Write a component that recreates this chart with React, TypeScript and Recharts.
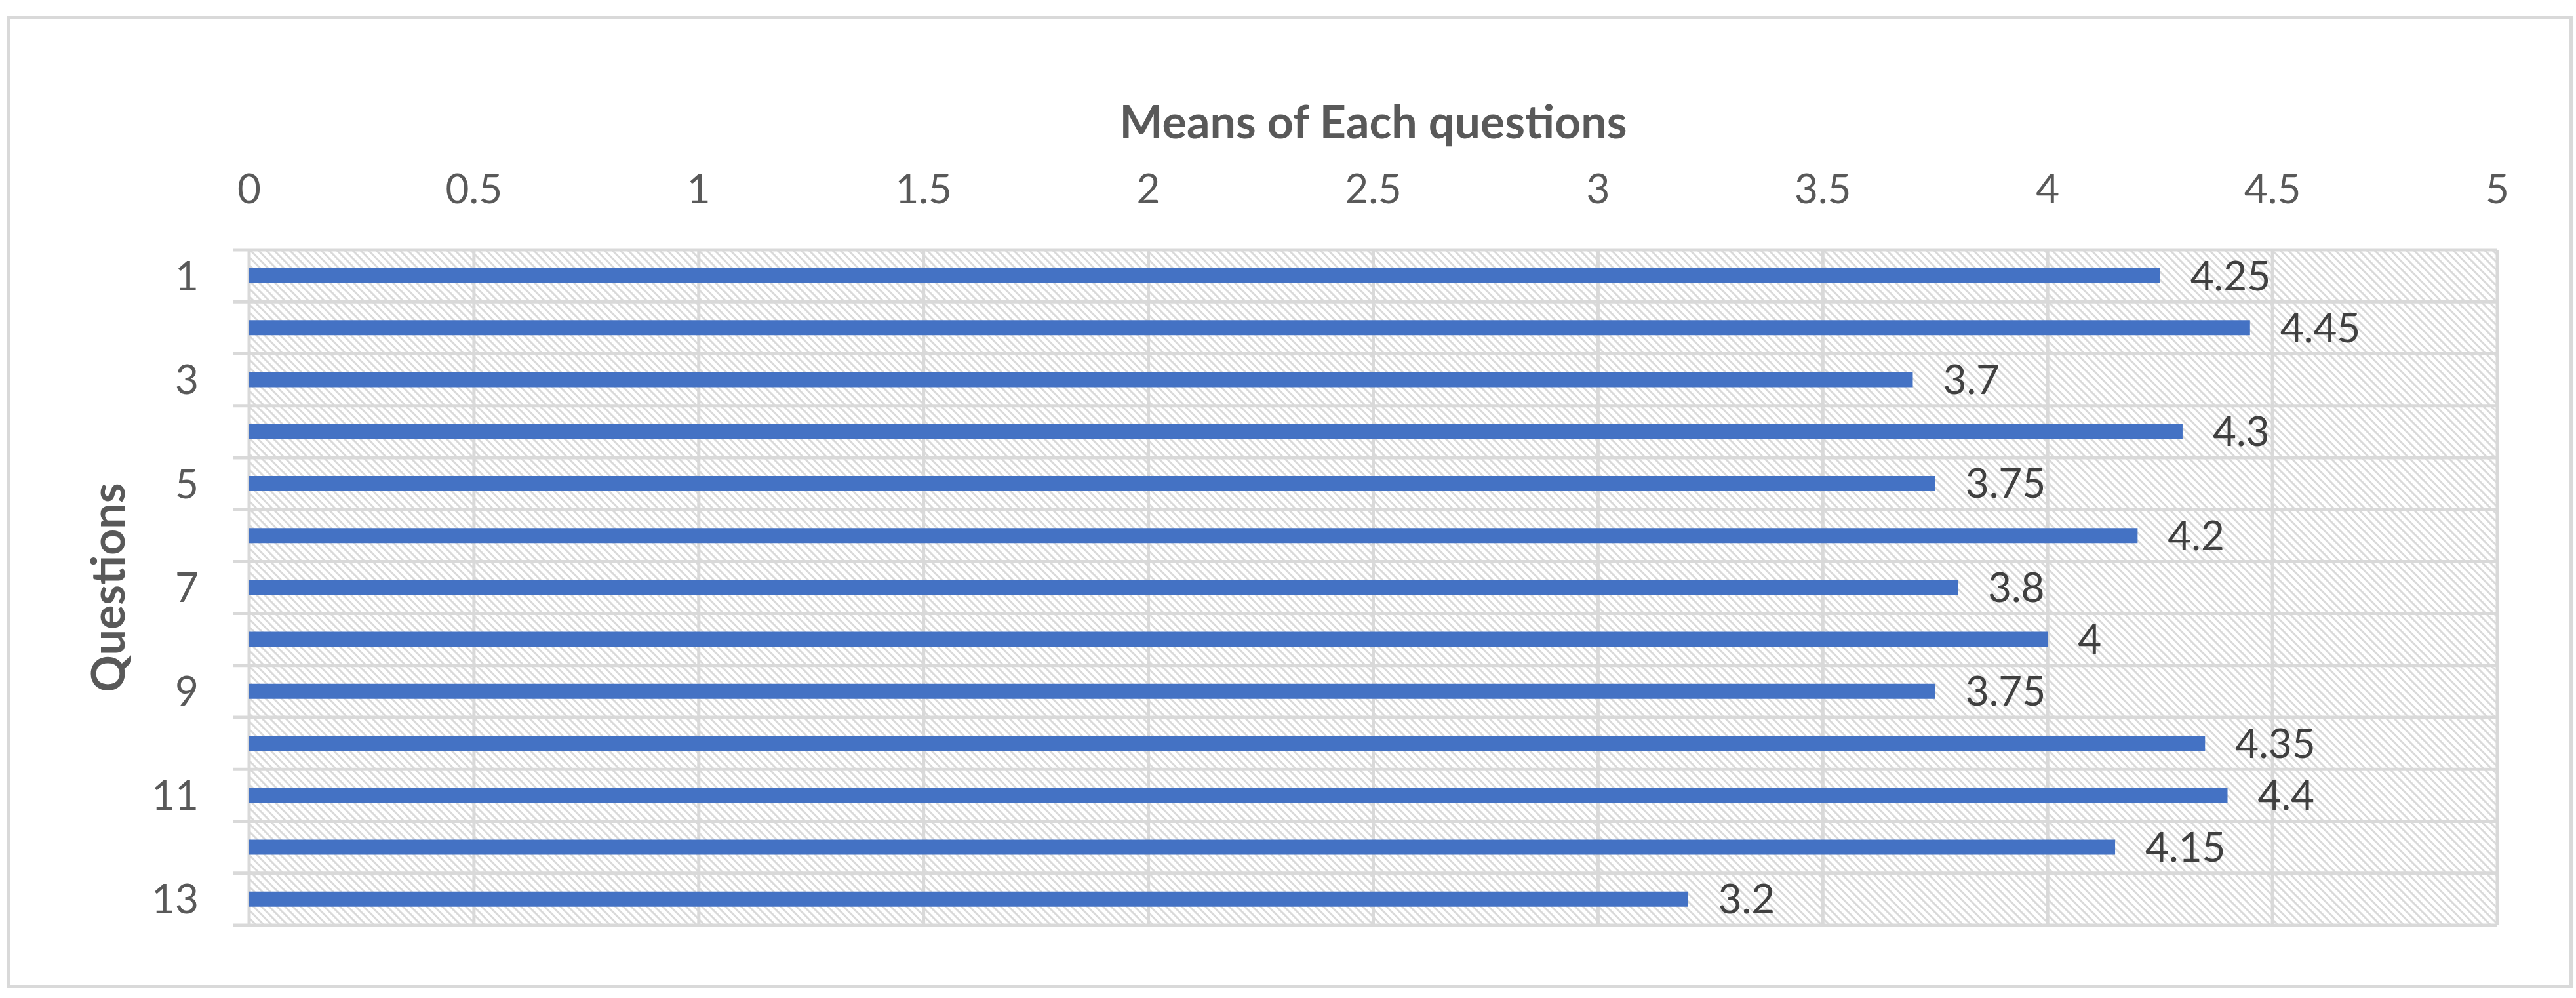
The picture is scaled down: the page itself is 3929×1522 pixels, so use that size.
import React from "react"
import { BarChart, Bar, XAxis, YAxis, CartesianGrid, LabelList } from "recharts"

const questions = ["1", "2", "3", "4", "5", "6", "7", "8", "9", "10", "11", "12", "13"]
const means = [4.25, 4.45, 3.7, 4.3, 3.75, 4.2, 3.8, 4, 3.75, 4.35, 4.4, 4.15, 3.2]
const xTicks = [0, 0.5, 1, 1.5, 2, 2.5, 3, 3.5, 4, 4.5, 5]

const data = questions.map((q, i) => ({ q, mean: means[i] }))

const W = 3929
const H = 1522
const FONT = "Lato, 'Noto Sans', sans-serif"
const GRID = "#D9D9D9"

export default function App() {
  return (
    <div style={{ position: "absolute", left: 0, top: 0, width: W, height: H, background: "#fff" }}>
      <div
        style={{
          position: "absolute",
          left: 10,
          top: 24,
          width: 3914,
          height: 1483,
          border: `5px solid ${GRID}`,
          boxSizing: "border-box",
        }}
      />
      <div style={{ position: "absolute", left: 0, top: 0 }}>
        <BarChart
          width={W}
          height={H}
          data={data}
          layout="vertical"
          margin={{ top: 30, right: 120, bottom: 111, left: 20 }}
          style={{ fontFamily: FONT }}
        >
          <defs>
            <pattern id="hatch" width="12" height="12" patternUnits="userSpaceOnUse">
              <rect width="12" height="12" fill="#fff" />
              <line x1="-3" y1="-3" x2="15" y2="15" stroke={GRID} strokeWidth="3" />
              <line x1="-15" y1="-3" x2="3" y2="15" stroke={GRID} strokeWidth="3" />
              <line x1="9" y1="-3" x2="27" y2="15" stroke={GRID} strokeWidth="3" />
            </pattern>
          </defs>
          <CartesianGrid
            fill="url(#hatch)"
            fillOpacity={1}
            stroke={GRID}
            strokeWidth={5}
            horizontalCoordinatesGenerator={({ offset }: any) =>
              Array.from({ length: questions.length + 1 }, (_, i) => offset.top + (i * offset.height) / questions.length)
            }
            horizontal={(p: any) => (
              <line key={p.key} x1={p.x1 - 25} y1={p.y1} x2={p.x2} y2={p.y2} stroke={GRID} strokeWidth={5} />
            )}
          />
          <XAxis
            type="number"
            orientation="top"
            domain={[0, 5]}
            ticks={xTicks}
            height={351}
            axisLine={false}
            tickLine={false}
            tickSize={0}
            tickMargin={71}
            tick={{ fill: "#595959", fontSize: 62, fontFamily: FONT }}
            label={({ viewBox }: any) => (
              <text
                x={viewBox.x + viewBox.width / 2}
                y={viewBox.y + 181}
                textAnchor="middle"
                fill="#595959"
                fontSize={70}
                fontWeight="bold"
                fontFamily={FONT}
              >
                Means of Each questions
              </text>
            )}
          />
          <YAxis
            type="category"
            dataKey="q"
            width={360}
            interval={1}
            axisLine={false}
            tickLine={false}
            tickSize={0}
            tickMargin={77}
            tick={{ fill: "#595959", fontSize: 62, fontFamily: FONT }}
            label={({ viewBox }: any) => {
              const cx = viewBox.x + 170
              const cy = viewBox.y + viewBox.height / 2
              return (
                <text
                  x={cx}
                  y={cy}
                  transform={`rotate(-90, ${cx}, ${cy})`}
                  textAnchor="middle"
                  fill="#595959"
                  fontSize={70}
                  fontWeight="bold"
                  fontFamily={FONT}
                >
                  Questions
                </text>
              )
            }}
          />
          <Bar dataKey="mean" fill="#4472C4" barSize={23} isAnimationActive={false}>
            <LabelList
              dataKey="mean"
              position="right"
              offset={46}
              fill="#404040"
              fontSize={62}
              fontFamily={FONT}
            />
          </Bar>
        </BarChart>
      </div>
    </div>
  )
}
